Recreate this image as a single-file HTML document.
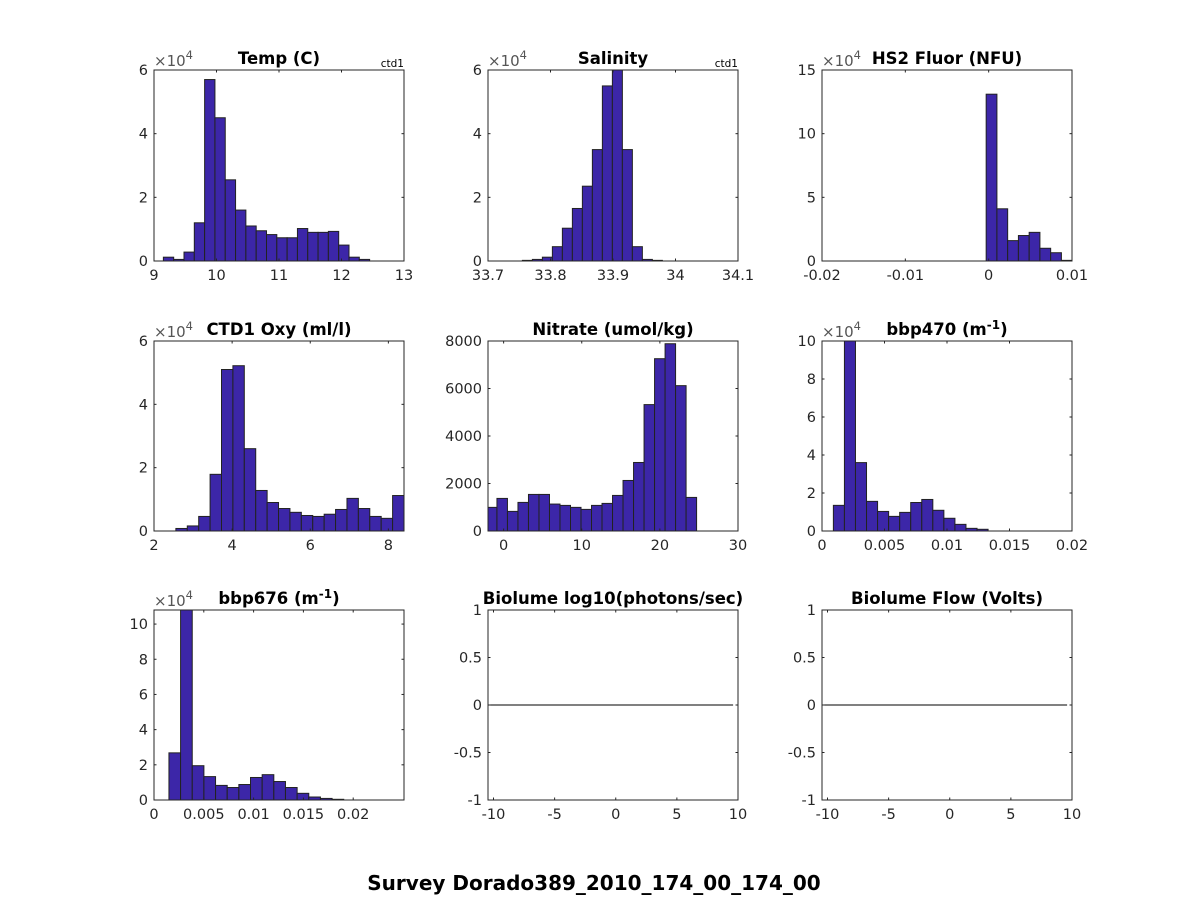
<!DOCTYPE html>
<html><head><meta charset="utf-8">
<style>
body{margin:0;background:#fff;}
svg{display:block;font-family:"DejaVu Sans","Liberation Sans",sans-serif;}
</style></head>
<body>
<svg id="fig" width="1188" height="900" viewBox="0 0 1188 900" xmlns="http://www.w3.org/2000/svg">
<rect width="1188" height="900" fill="#fff"/>
<text x="594" y="890" text-anchor="middle" font-size="20" font-weight="bold" fill="#000">Survey Dorado389_2010_174_00_174_00</text>
</svg>
<script>
// ---- data ----
const tempValues = [0.12,0.05,0.28,1.2,5.7,4.5,2.55,1.6,1.1,0.95,0.83,0.73,0.73,1.02,0.9,0.9,0.93,0.5,0.12,0.05];
const tempXTicks = [9,10,11,12,13];
const tempYTicks = [0,2,4,6];
const salValues = [0.02,0.05,0.12,0.45,1.03,1.65,2.35,3.5,5.5,6.2,3.5,0.45,0.05,0.02];
const salXTicks = [33.7,33.8,33.9,34,34.1];
const salYTicks = [0,2,4,6];
const fluorValues = [13.1,4.1,1.6,2.0,2.25,1.0,0.65,0.05];
const fluorXTicks = [-0.02,-0.01,0,0.01];
const fluorYTicks = [0,5,10,15];
const oxyValues = [0.08,0.16,0.46,1.79,5.1,5.22,2.6,1.28,0.9,0.71,0.59,0.49,0.46,0.53,0.68,1.03,0.71,0.46,0.4,1.12];
const oxyXTicks = [2,4,6,8];
const oxyYTicks = [0,2,4,6];
const nitValues = [995,1372,826,1204,1540,1540,1134,1078,995,910,1078,1162,1498,2128,2885,5322,7255,7885,6120,1414];
const nitXTicks = [0,10,20,30];
const nitYTicks = [0,2000,4000,6000,8000];
const b470Values = [1.35,10.2,3.6,1.56,1.03,0.77,0.98,1.5,1.66,1.09,0.67,0.35,0.14,0.09];
const b470XTicks = [0,0.005,0.01,0.015,0.02];
const b470YTicks = [0,2,4,6,8,10];
const b676Values = [2.68,11,1.95,1.33,0.83,0.71,0.88,1.28,1.44,1.05,0.71,0.38,0.17,0.09,0.04];
const b676XTicks = [0,0.005,0.01,0.015,0.02];
const b676YTicks = [0,2,4,6,8,10];
const bioXTicks = [-10,-5,0,5,10];
const bioYTicks = [-1,-0.5,0,0.5,1];
const bioLineX = [-10.45, 9.6];
const bioLineY = [0, 0];

const NS='http://www.w3.org/2000/svg';
const svg=document.getElementById('fig');
function mk(tag,attrs,parent){const e=document.createElementNS(NS,tag);for(const k in attrs)e.setAttribute(k,attrs[k]);(parent||svg).appendChild(e);return e;}

const cols=[154,488,822], W=250;
const rows=[[70,261],[341,531],[610,800]];

const panels=[
 {name:'temp',title:'Temp (C)',c:0,r:0,xlim:[9,13],ylim:[0,6],vals:tempValues,start:9.15,w:0.165,xt:tempXTicks,yt:tempYTicks,exp:true,ctd:true},
 {name:'salinity',title:'Salinity',c:1,r:0,xlim:[33.7,34.1],ylim:[0,6],vals:salValues,start:33.755,w:0.016,xt:salXTicks,yt:salYTicks,exp:true,ctd:true},
 {name:'hs2-fluor',title:'HS2 Fluor (NFU)',c:2,r:0,xlim:[-0.02,0.01],ylim:[0,15],vals:fluorValues,start:-0.0003,w:0.00129,xt:fluorXTicks,yt:fluorYTicks,exp:true},
 {name:'oxygen',title:'CTD1 Oxy (ml/l)',c:0,r:1,xlim:[2,8.4],ylim:[0,6],vals:oxyValues,start:2.56,w:0.292,xt:oxyXTicks,yt:oxyYTicks,exp:true},
 {name:'nitrate',title:'Nitrate (umol/kg)',c:1,r:1,xlim:[-2,30],ylim:[0,8000],vals:nitValues,start:-2.2,w:1.345,xt:nitXTicks,yt:nitYTicks,exp:false},
 {name:'bbp470',title:'bbp470 (m',sup:'-1',c:2,r:1,xlim:[0,0.02],ylim:[0,10],vals:b470Values,start:0.00091,w:0.000884,xt:b470XTicks,yt:b470YTicks,exp:true},
 {name:'bbp676',title:'bbp676 (m',sup:'-1',c:0,r:2,xlim:[0,0.0251],ylim:[0,10.8],vals:b676Values,start:0.0015,w:0.00117,xt:b676XTicks,yt:b676YTicks,exp:true},
 {name:'biolume',title:'Biolume log10(photons/sec)',c:1,r:2,xlim:[-10.45,10],ylim:[-1,1],line:true,xt:bioXTicks,yt:bioYTicks},
 {name:'biolume-flow',title:'Biolume Flow (Volts)',c:2,r:2,xlim:[-10.45,10],ylim:[-1,1],line:true,xt:bioXTicks,yt:bioYTicks}
];

function fmt(v){return String(v);}

panels.forEach(p=>{
  const x0=cols[p.c], x1=x0+W, y0=rows[p.r][0], y1=rows[p.r][1];
  const sx=v=>x0+(v-p.xlim[0])/(p.xlim[1]-p.xlim[0])*(x1-x0);
  const sy=v=>y1-(v-p.ylim[0])/(p.ylim[1]-p.ylim[0])*(y1-y0);
  const g=mk('g',{});
  
  
  const clipId='clip-'+p.name;
  const cp=mk('clipPath',{id:clipId},g);
  mk('rect',{x:x0,y:y0,width:W,height:y1-y0},cp);
  const bg=mk('rect',{x:x0,y:y0,width:W,height:y1-y0,fill:'#fff'},g);
  
  
  const marks=mk('g',{'clip-path':'url(#'+clipId+')'},g);
  if(p.vals){
    p.vals.forEach((v,i)=>{
      const a=sx(p.start+i*p.w), b=sx(p.start+(i+1)*p.w);
      const top=Math.max(sy(v),y0-2);
      const r=mk('rect',{x:a,y:top,width:b-a,height:y1-top,fill:'#3c26a8',stroke:'#222','stroke-width':1},marks);
      
      
    });
  }
  if(p.line){
    const l=mk('line',{x1:sx(bioLineX[0]),y1:sy(bioLineY[0]),x2:sx(bioLineX[1]),y2:sy(bioLineY[1]),stroke:'#000','stroke-width':1},marks);
    
    
  }
  const box=mk('rect',{x:x0,y:y0,width:W,height:y1-y0,fill:'none',stroke:'#262626','stroke-width':1},g);
  
  
  p.xt.forEach(t=>{
    const x=sx(t);
    mk('line',{x1:x,y1:y1,x2:x,y2:y1-2.5,stroke:'#262626'},g);
    mk('line',{x1:x,y1:y0,x2:x,y2:y0+2.5,stroke:'#262626'},g);
    const tx=mk('text',{x:x,y:y1+19,'text-anchor':'middle','font-size':14.5,fill:'#262626'},g);
    tx.textContent=fmt(t);
    
    
  });
  p.yt.forEach(t=>{
    const y=sy(t);
    mk('line',{x1:x0,y1:y,x2:x0+2.5,y2:y,stroke:'#262626'},g);
    mk('line',{x1:x1,y1:y,x2:x1-2.5,y2:y,stroke:'#262626'},g);
    const tx=mk('text',{x:x0-6,y:y+5,'text-anchor':'end','font-size':14.5,fill:'#262626'},g);
    tx.textContent=fmt(t);
    
    
  });
  const ti=mk('text',{x:(x0+x1)/2,y:y0-6,'text-anchor':'middle','font-size':16.5,'font-weight':'bold',fill:'#000'},g);
  ti.textContent=p.title;
  if(p.sup){
    const s=mk('tspan',{dy:-6,'font-size':12},ti); s.textContent=p.sup;
    const e=mk('tspan',{dy:6},ti); e.textContent=')';
  }
  
  
  if(p.exp){
    const ex=mk('text',{x:x0,y:y0-4,'font-size':15,fill:'#555'},g);
    ex.textContent='×10';
    const s=mk('tspan',{dy:-7,'font-size':11.5},ex); s.textContent='4';
    
    
  }
  if(p.ctd){
    const c=mk('text',{x:x1,y:y0-3,'text-anchor':'end','font-size':10.5,fill:'#000'},g);
    c.textContent='ctd1';
    
    
  }
});
</script>
</body></html>
